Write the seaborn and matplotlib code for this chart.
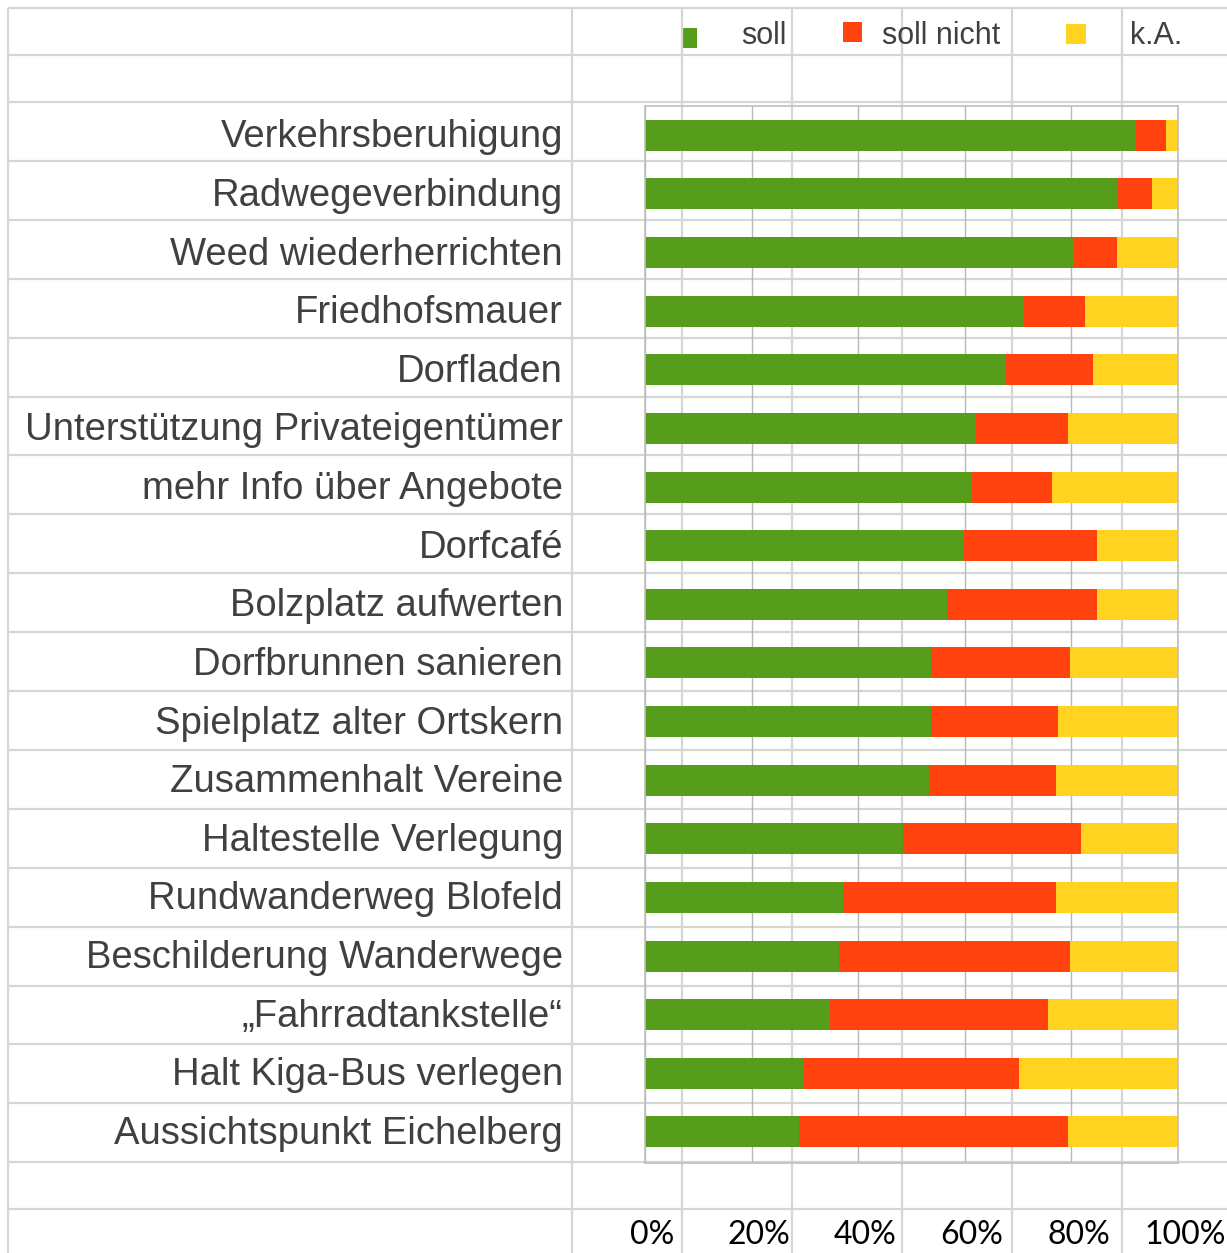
import numpy as np
import pandas as pd
import matplotlib
matplotlib.use("Agg")
import matplotlib.pyplot as plt
import matplotlib.transforms as mtransforms
from matplotlib.patches import Rectangle
import seaborn as sns

# Survey results (percent)
categories = [
    "Verkehrsberuhigung", "Radwegeverbindung", "Weed wiederherrichten",
    "Friedhofsmauer", "Dorfladen", "Unterstützung Privateigentümer",
    "mehr Info über Angebote", "Dorfcafé", "Bolzplatz aufwerten",
    "Dorfbrunnen sanieren", "Spielplatz alter Ortskern", "Zusammenhalt Vereine",
    "Haltestelle Verlegung", "Rundwanderweg Blofeld", "Beschilderung Wanderwege",
    "„Fahrradtankstelle“", "Halt Kiga-Bus verlegen", "Aussichtspunkt Eichelberg",
]
soll = [92.2, 88.5, 80.4, 71.2, 67.8, 62.1, 61.3, 59.9, 56.6,
        53.6, 53.6, 53.2, 48.4, 37.1, 36.4, 34.8, 29.9, 28.8]
soll_nicht = [5.6, 6.6, 8.1, 11.3, 16.2, 17.2, 15.0, 24.9, 28.2,
              26.1, 23.8, 23.9, 33.4, 40.0, 43.3, 40.8, 40.2, 50.5]
keine_angabe = [2.2, 4.9, 11.5, 17.5, 16.0, 20.7, 23.7, 15.2, 15.2,
                20.3, 22.6, 22.9, 18.2, 22.9, 20.3, 24.4, 29.9, 20.7]
series_names = ["soll", "soll nicht", "k.A."]
x_ticks = [0, 20, 40, 60, 80, 100]
x_tick_labels = ["0%", "20%", "40%", "60%", "80%", "100%"]

colors = ["#579d1c", "#ff420e", "#ffd320"]
text_color = "#404040"
sheet_grid = "#d6d6d6"
axis_grey = "#bfbfbf"

sns.set_style("white")
plt.rcParams["font.family"] = ["Liberation Sans", "DejaVu Sans"]

df = pd.DataFrame({"Massnahme": categories, "soll": soll,
                   "soll nicht": soll_nicht, "k.A.": keine_angabe})
df["cum_nicht"] = df["soll"] + df["soll nicht"]
df["cum_ka"] = df["cum_nicht"] + df["k.A."]

W, H = 1227, 1253
fig = plt.figure(figsize=(W / 100, H / 100), dpi=100)

# spreadsheet grid behind the chart
bg = fig.add_axes([0, 0, 1, 1], zorder=0)
bg.set_xlim(0, W)
bg.set_ylim(H, 0)
bg.axis("off")
col_lines = [8, 572, 682, 792, 902, 1012, 1122]
row_lines = [8, 55] + [102 + 58.9 * k for k in range(19)] + [1209]
for x in col_lines:
    bg.plot([x, x], [8, H], color=sheet_grid, lw=1.6, solid_capstyle="butt")
for y in row_lines:
    bg.plot([8, W], [y, y], color=sheet_grid, lw=1.6, solid_capstyle="butt")

# legend (drawn by hand like the spreadsheet legend)
legend_boxes = [(682, 28, 15, 20), (843, 22, 19, 20), (1066, 24, 20, 20)]
legend_text_x = [741, 882, 1130]
for (bx, by, bw, bh), tx, name, c in zip(legend_boxes, legend_text_x, series_names, colors):
    bg.add_patch(Rectangle((bx, by), bw, bh, color=c, lw=0))
    bg.text(tx, 44, name, fontsize=22, color=text_color, va="baseline", ha="left")

# chart
left, right, top, bottom = 645, 1178, 106, 1163
ax = fig.add_axes([left / W, 1 - bottom / H, (right - left) / W, (bottom - top) / H], zorder=1)
ax.patch.set_alpha(0)

sns.barplot(data=df, x="cum_ka", y="Massnahme", orient="h", color=colors[2],
            saturation=1, width=0.53, linewidth=0, ax=ax)
sns.barplot(data=df, x="cum_nicht", y="Massnahme", orient="h", color=colors[1],
            saturation=1, width=0.53, linewidth=0, ax=ax)
sns.barplot(data=df, x="soll", y="Massnahme", orient="h", color=colors[0],
            saturation=1, width=0.53, linewidth=0, ax=ax)

ax.set_xlim(0, 100)
ax.set_ylim(len(categories) - 0.5 + 0.03, -0.5 + 0.03)
ax.set_xlabel("")
ax.set_ylabel("")
ax.set_xticks(x_ticks)
ax.set_xticklabels(x_tick_labels)
ax.set_yticks(np.arange(-0.5, len(categories), 1), minor=True)

ax.set_axisbelow(True)
ax.grid(axis="x", color="#b8b8b8", lw=1)
ax.grid(axis="y", visible=False)
for s in ax.spines.values():
    s.set_visible(True)
    s.set_color(axis_grey)
    s.set_linewidth(1.2)

ax.tick_params(axis="y", which="major", length=0, pad=59, labelsize=27.5, labelcolor=text_color)
ax.tick_params(axis="y", which="minor", length=8, width=1.2, color=axis_grey, direction="out")
ax.tick_params(axis="x", which="major", length=9, width=1.2, color=axis_grey, direction="out",
               pad=32, labelsize=23, labelcolor="black")
shift = mtransforms.ScaledTranslation(0.07, 0, fig.dpi_scale_trans)
for lbl in ax.get_xticklabels():
    lbl.set_fontfamily(["Lato", "DejaVu Sans"])
    lbl.set_transform(lbl.get_transform() + shift)
shift_up = mtransforms.ScaledTranslation(0, 0.02, fig.dpi_scale_trans)
for lbl in ax.get_yticklabels():
    lbl.set_transform(lbl.get_transform() + shift_up)

fig.savefig("out.png", dpi=100, facecolor="white")
